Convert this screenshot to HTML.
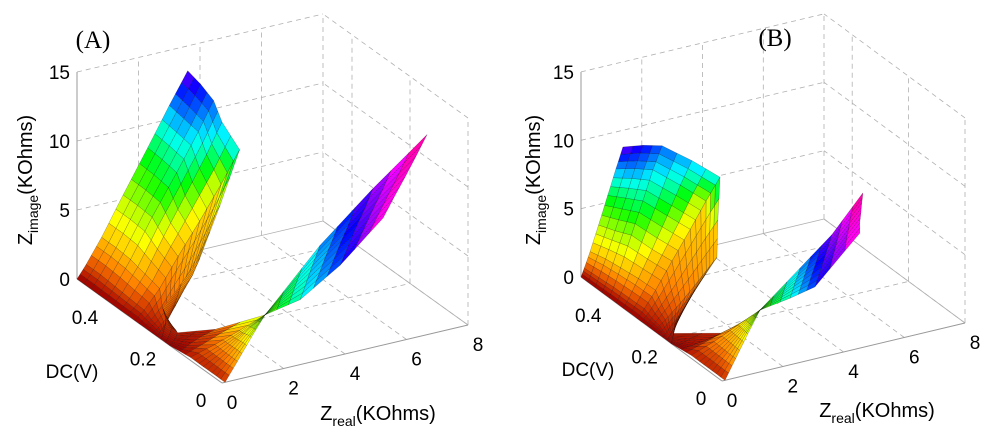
<!DOCTYPE html>
<html><head><meta charset="utf-8"><style>
body{margin:0;background:#fff;}
svg{display:block;font-family:"Liberation Sans",Arial,sans-serif;}
</style></head><body>
<svg id="fig" width="1000" height="436" viewBox="0 0 1000 436">
<rect width="1000" height="436" fill="#fff"/>
<g id="panelA"></g>
<g id="panelB"></g>
</svg>
<script>
const dcLevels=[0,0.03,0.06,0.09,0.12,0.15,0.18,0.21,0.24,0.27,0.3,0.35,0.4,0.45,0.5];
const xTicks=[0,2,4,6,8];
const dcTicks=[0,0.2,0.4];
const zTicks=[0,5,10,15];
const xTickLabels=["0","2","4","6","8"];
const dcTickLabels=["0","0.2","0.4"];
const zTickLabels=["0","5","10","15"];
const hueC=[
[15,40,65,110,200,270,330],
[10,35,60,105,190,260,325],
[10,30,55,100,185,250,320],
[10,30,50,95,180,240,315],
[10,30,50,90,170,230,320],
[0,4,8,12,null,null,null],
[0,3,6,8,10,12,14],
[0,5,10,14,18,22,25],
[0,8,18,26,32,38,42],
[0,10,22,32,40,45,50],
[0,15,30,40,48,52,185],
[0,20,40,55,100,160,195],
[0,20,45,85,150,190,220],
[0,20,45,80,140,210,245],
[0,20,45,75,130,200,270]];
const xrA=[
[0.1,0.5,0.95,1.4,3.19,4.9,6.67],
[0.1,0.6,1.15,1.68,3.3,4.95,6.59],
[0.1,0.7,1.3,1.96,3.42,4.95,6.52],
[0.1,0.8,1.5,2.25,3.55,4.96,6.44],
[0.1,0.9,1.7,2.53,3.67,4.97,6.37],
[0.05,0.3,0.7,1.2,null,null,null],
[0,0.1,0.2,0.25,0.2,0.1,0],
[0,0.05,0.1,0.15,0.15,0.1,0.06],
[0,0.2,0.45,0.75,1,1.3,1.54],
[0,0.25,0.6,1,1.5,2,2.48],
[0,0.3,0.8,1.4,2.1,2.8,3.4],
[0,0.3,0.8,1.4,2.1,2.8,3.3],
[0,0.3,0.8,1.5,2.3,3,3.5],
[0,0.3,0.8,1.5,2.3,3,3.55],
[0,0.3,0.8,1.5,2.3,3,3.6]];
const ziA=[
[0,1.3,2.8,4.2,8.3,11.5,14.5],
[0,1.1,2.4,3.6,6.8,9.7,12.5],
[0,0.9,2.0,3.0,5.3,7.9,10.6],
[0,0.7,1.5,2.4,3.8,6.0,8.7],
[0,0.5,1.1,1.8,2.3,4.1,6.8],
[0,0.3,0.7,1.0,null,null,null],
[0,0.2,0.5,0.8,1.0,1.2,1.3],
[0,0.3,0.7,1.1,1.5,1.9,2.2],
[0,0.3,0.8,1.6,2.5,3.5,4.6],
[0,0.4,1.2,2.5,4,5.7,7.5],
[0,0.6,1.9,3.9,6.1,8.4,10.6],
[0,0.7,2.2,4.6,7.2,9.8,11.9],
[0,0.8,2.5,5.2,8,10.6,12.6],
[0,0.9,2.6,5.3,8.2,10.8,13],
[0,0.9,2.6,5.3,8.3,11,13.2]];
const xrB=[
[0.1,0.45,0.85,1.25,2.57,3.62,4.64],
[0.1,0.55,1.05,1.53,2.77,3.76,4.88],
[0.1,0.65,1.25,1.81,2.96,3.9,5.13],
[0.1,0.75,1.45,2.09,3.16,4.03,5.37],
[0.1,0.85,1.65,2.36,3.35,4.17,5.65],
[0.05,0.4,0.9,1.65,null,null,null],
[0,0.02,0.05,0.08,0.1,0.12,0.125],
[0,0.09,0.23,0.45,0.68,0.88,1.06],
[0,0.17,0.45,0.86,1.32,1.71,2.06],
[0,0.2,0.52,1,1.52,1.97,2.37],
[0,0.23,0.6,1.14,1.74,2.26,2.72],
[0,0.19,0.5,0.95,1.45,1.88,2.26],
[0,0.15,0.38,0.73,1.11,1.44,1.74],
[0,0.13,0.35,0.66,1.01,1.31,1.58],
[0,0.11,0.3,0.58,0.88,1.15,1.38]];
const ziB=[
[0,1.4,3,4.53,6.9,8.8,11.3],
[0,1.2,2.6,3.93,5.8,7.3,10.0],
[0,1,2.2,3.32,4.7,5.8,8.66],
[0,0.8,1.8,2.71,3.6,4.3,7.33],
[0,0.6,1.4,2.11,2.45,2.84,6.0],
[0,0.1,0.25,0.35,null,null,null],
[0,0.15,0.4,0.7,1,1.25,1.44],
[0,0.2,0.6,1.1,1.7,2.3,2.9],
[0,0.3,0.8,1.6,2.6,3.5,4.3],
[0,0.4,1.2,2.5,4,5.3,6.4],
[0,0.6,1.75,3.6,5.6,7.4,8.9],
[0,0.65,1.9,3.8,6,8,9.6],
[0,0.7,2,4.2,6.5,8.6,10.2],
[0,0.65,1.9,3.8,6,8,9.56],
[0,0.6,1.7,3.5,5.5,7.3,8.78]];

const NS="http://www.w3.org/2000/svg";
function mk(tag,attrs,parent){const e=document.createElementNS(NS,tag);for(const k in attrs)e.setAttribute(k,attrs[k]);parent.appendChild(e);return e;}

function drawPanel(g,cfg,xr,zi,label){
  const P=(x,d,z)=>[cfg.p0[0]+cfg.vx[0]*x+cfg.vd[0]*d, cfg.p0[1]+cfg.vx[1]*x+cfg.vd[1]*d-cfg.vz*z];
  const grid=mk('g',{},g);
  
  
  const line=(a,b,dash,col)=>{const l=mk('line',{x1:a[0].toFixed(1),y1:a[1].toFixed(1),x2:b[0].toFixed(1),y2:b[1].toFixed(1),stroke:col||'#b0b0b0','stroke-width':0.8},grid);if(dash)l.setAttribute('stroke-dasharray','5,4');return l;};
  const X1=8,D1=0.5,Z1=15;
  // back wall (dc = max)
  xTicks.forEach(x=>{if(x>0)line(P(x,D1,0),P(x,D1,Z1),true);});
  zTicks.forEach(z=>{if(z>0)line(P(0,D1,z),P(X1,D1,z),true);});
  // side wall (xr = max)
  dcTicks.forEach(d=>line(P(X1,d,0),P(X1,d,Z1),true));
  zTicks.forEach(z=>{if(z>0)line(P(X1,0,z),P(X1,D1,z),true);});
  // floor
  xTicks.forEach(x=>{if(x>0)line(P(x,0,0),P(x,D1,0),true);});
  dcTicks.forEach(d=>{if(d>0)line(P(0,d,0),P(X1,d,0),true);});
  line(P(X1,0,0),P(X1,D1,0),false);
  line(P(0,D1,0),P(X1,D1,0),false);
  // axes
  const ax=mk('g',{},g);
  
  
  const al=(a,b)=>mk('line',{x1:a[0],y1:a[1],x2:b[0],y2:b[1],stroke:'#999','stroke-width':1},ax);
  al(P(0,D1,0),P(0,D1,Z1)); al(P(0,0,0),P(0,D1,0)); al(P(0,0,0),P(X1,0,0));
  // surface
  const polys=[];
  const R=dcLevels.length, C=xr[0].length;
  const S=3,T=2;
  for(let i=0;i<R-1;i++)for(let j=0;j<C-1;j++){
    const ok=[[i,j],[i+1,j],[i+1,j+1],[i,j+1]].every(([a,b])=>xr[a][b]!==null&&zi[a][b]!==null);
    if(!ok)continue;
    const get=(a,b)=>({x:xr[a][b],d:dcLevels[a],z:zi[a][b],h:hueC[a][b]});
    const c00=get(i,j),c10=get(i+1,j),c11=get(i+1,j+1),c01=get(i,j+1);
    const bil=(u,v)=>{const o={};['x','d','z','h'].forEach(k=>{o[k]=(1-u)*(1-v)*c00[k]+u*(1-v)*c10[k]+u*v*c11[k]+(1-u)*v*c01[k];});return o;};
    for(let s=0;s<T;s++)for(let t=0;t<S;t++){
      const q=[bil(s/T,t/S),bil((s+1)/T,t/S),bil((s+1)/T,(t+1)/S),bil(s/T,(t+1)/S)];
      const m={x:0,d:0,z:0,h:0};q.forEach(p=>{for(const k in m)m[k]+=p[k]/4;});
      polys.push({pts:q.map(p=>P(p.x,p.d,p.z)),depth:m.x/8+m.d/0.5-0.4*m.z/15,h:m.h});
    }
  }
  polys.sort((a,b)=>b.depth-a.depth);
  const sg=mk('g',{},g);
  
  
  polys.forEach(p=>{
    const L=30+20*Math.min(1,p.h/30);
    const el=mk('polygon',{points:p.pts.map(q=>q[0].toFixed(1)+','+q[1].toFixed(1)).join(' '),fill:`hsl(${p.h.toFixed(0)},100%,${L.toFixed(0)}%)`,stroke:'rgba(0,0,0,0.45)','stroke-width':0.4,'stroke-linejoin':'round'},sg);
    
    
  });
  // tick labels
  const tg=mk('g',{'font-size':19,fill:'#000'},g);
  
  
  zTicks.forEach((z,k)=>{const p=P(0,D1,z);const t=mk('text',{x:p[0]-7,y:p[1]+7,'text-anchor':'end'},tg);t.textContent=zTickLabels[k];});
  dcTicks.forEach((d,k)=>{const p=P(0,d,0);const t=mk('text',{x:p[0]-21,y:p[1]+24,'text-anchor':'middle'},tg);t.textContent=dcTickLabels[k];});
  xTicks.forEach((x,k)=>{const p=P(x,0,0);const t=mk('text',{x:p[0]+10,y:p[1]+26,'text-anchor':'middle'},tg);t.textContent=xTickLabels[k];});
  // titles
  const zt=mk('text',{transform:`translate(${cfg.zt[0]},${cfg.zt[1]}) rotate(-90)`,'text-anchor':'middle','font-size':20},g);
  
  zt.innerHTML='Z<tspan font-size="14" dy="6">image</tspan><tspan dy="-6">(KOhms)</tspan>';
  const xt=mk('text',{x:cfg.xt[0],y:cfg.xt[1],'text-anchor':'middle','font-size':20},g);
  
  xt.innerHTML='Z<tspan font-size="14" dy="6">real</tspan><tspan dy="-6">(KOhms)</tspan>';
  const dt=mk('text',{x:cfg.dt[0],y:cfg.dt[1],'text-anchor':'middle','font-size':19},g);
  
  dt.textContent='DC(V)';
  const pl=mk('text',{x:cfg.pl[0],y:cfg.pl[1],'text-anchor':'middle','font-size':25,'font-family':'"Liberation Serif",serif'},g);
  
  pl.textContent=label;
}
drawPanel(document.getElementById('panelA'),{p0:[222,383],vx:[30.75,-7.25],vd:[-290,-208],vz:13.8,zt:[32,180],xt:[378,420],dt:[72,378],pl:[93,48]},xrA,ziA,'(A)');
drawPanel(document.getElementById('panelB'),{p0:[722,381],vx:[30.375,-7.25],vd:[-282,-208],vz:13.67,zt:[540,180],xt:[877,417],dt:[588,376],pl:[775,46]},xrB,ziB,'(B)');
</script>
</body></html>
